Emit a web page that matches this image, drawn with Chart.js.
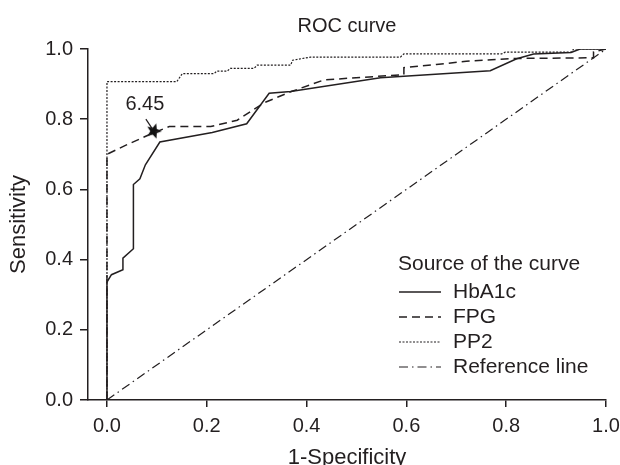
<!DOCTYPE html>
<html>
<head>
<meta charset="utf-8">
<script src="https://cdn.jsdelivr.net/npm/chart.js@4.4.1/dist/chart.umd.min.js"></script>
<style>
  html, body { margin: 0; padding: 0; background: #fff; }
</style>
</head>
<body>
<canvas id="myChart" width="620" height="465"></canvas>
<script>
// ROC curve data (x = 1-specificity, y = sensitivity)
const hba1cX = [0, 0, 0.009, 0.032, 0.032, 0.053, 0.053, 0.066, 0.077, 0.106, 0.211, 0.28, 0.325, 0.368, 0.548, 0.768, 0.821, 0.855, 0.93, 0.948, 1];
const hba1cY = [0, 0.336, 0.357, 0.371, 0.404, 0.431, 0.614, 0.63, 0.67, 0.735, 0.762, 0.787, 0.874, 0.879, 0.918, 0.938, 0.972, 0.986, 0.99, 1, 1];

const fpgX = [0, 0, 0.035, 0.088, 0.125, 0.208, 0.261, 0.315, 0.368, 0.435, 0.595, 0.595, 0.66, 0.72, 0.815, 0.975, 0.975, 1];
const fpgY = [0, 0.70, 0.724, 0.758, 0.779, 0.779, 0.797, 0.847, 0.878, 0.912, 0.927, 0.947, 0.956, 0.965, 0.973, 0.975, 0.992, 1];

const pp2X = [0, 0, 0.14, 0.151, 0.215, 0.22, 0.241, 0.247, 0.295, 0.301, 0.368, 0.372, 0.408, 0.588, 0.595, 0.791, 0.798, 0.931, 0.935, 1];
const pp2Y = [0, 0.907, 0.907, 0.93, 0.93, 0.937, 0.937, 0.945, 0.945, 0.954, 0.954, 0.968, 0.977, 0.977, 0.986, 0.986, 0.991, 0.991, 1, 1];

const refX = [0, 1];
const refY = [0, 1];

// cut-off point marked on the HbA1c/FPG curves
const cutoffX = [0.094];
const cutoffY = [0.766];
const cutoffLabel = '6.45';

const xTicks = [0, 0.2, 0.4, 0.6, 0.8, 1.0];
const yTicks = [0, 0.2, 0.4, 0.6, 0.8, 1.0];

const FONT = "'Liberation Sans', Arial, sans-serif";
const INK = '#231f20';

function toPoints(xs, ys) {
  return xs.map((x, i) => ({ x: x, y: ys[i] }));
}

function makeStar(r) {
  const c = document.createElement('canvas');
  c.width = c.height = 2 * r + 2;
  const g = c.getContext('2d');
  g.beginPath();
  for (let i = 0; i < 10; i++) {
    const a = -Math.PI / 2 + 0.3 + i * Math.PI / 5;
    const rr = i % 2 ? r * 0.45 : r;
    g.lineTo(r + 1 + rr * Math.cos(a), r + 1 + rr * Math.sin(a));
  }
  g.closePath();
  g.fillStyle = '#111';
  g.fill();
  return c;
}

const lineSet = (label, xs, ys, dash, width) => ({
  label: label,
  data: toPoints(xs, ys),
  showLine: true,
  borderColor: INK,
  borderWidth: width,
  borderDash: dash,
  pointRadius: 0,
  tension: 0,
  fill: false,
});

const datasets = [
  lineSet('HbA1c', hba1cX, hba1cY, [], 1.5),
  lineSet('FPG', fpgX, fpgY, [8, 5], 1.5),
  lineSet('PP2', pp2X, pp2Y, [2, 1.5], 1.2),
  lineSet('Reference line', refX, refY, [9, 4, 1.5, 4], 1.2),
  {
    label: '',
    data: toPoints(cutoffX, cutoffY),
    showLine: false,
    pointStyle: makeStar(8),
    pointRadius: 8,
  },
];

// centre the title over the plot area, then draw legend box and the "6.45" callout
const overlay = {
  id: 'overlay',
  afterLayout(chart) {
    const t = chart.titleBlock;
    if (t) {
      t.left = chart.chartArea.left;
      t.right = chart.chartArea.right;
      t.width = t.right - t.left;
    }
  },
  afterDatasetsDraw(chart) {
    const ctx = chart.ctx;
    ctx.save();
    ctx.fillStyle = INK;
    ctx.strokeStyle = INK;

    // callout
    const star = chart.getDatasetMeta(4).data[0];
    ctx.font = '20px ' + FONT;
    ctx.textAlign = 'center';
    ctx.textBaseline = 'middle';
    ctx.fillText(cutoffLabel, star.x - 9, star.y - 27);
    ctx.lineWidth = 1.2;
    ctx.setLineDash([]);
    ctx.beginPath();
    ctx.moveTo(star.x - 8, star.y - 12);
    ctx.lineTo(star.x - 2, star.y - 3);
    ctx.stroke();

    // legend
    const lx = 398, ly = 264;
    ctx.textAlign = 'left';
    ctx.font = '21px ' + FONT;
    ctx.fillText('Source of the curve', lx, ly);
    for (let i = 0; i < 4; i++) {
      const ds = chart.data.datasets[i];
      const y = ly + 28 + i * 25;
      ctx.lineWidth = ds.borderWidth;
      ctx.setLineDash(ds.borderDash);
      ctx.beginPath();
      ctx.moveTo(lx + 1, y);
      ctx.lineTo(lx + 43, y);
      ctx.stroke();
      ctx.setLineDash([]);
      ctx.fillText(ds.label, lx + 55, y);
    }
    ctx.restore();
  }
};

const ctx = document.getElementById('myChart').getContext('2d');
const myChart = new Chart(ctx, {
  type: 'scatter',
  data: { datasets: datasets },
  options: {
    responsive: false,
    animation: false,
    devicePixelRatio: 1,
    layout: { padding: { right: 14 } },
    plugins: {
      legend: { display: false },
      tooltip: { enabled: false },
      title: {
        display: true,
        text: 'ROC curve',
        color: INK,
        font: { size: 20, family: FONT, weight: 'normal' },
        padding: { top: 14, bottom: 11 },
      },
    },
    scales: {
      x: {
        type: 'linear',
        min: -0.038,
        max: 1.0,
        afterBuildTicks: s => { s.ticks = xTicks.map(v => ({ value: v })); },
        afterFit: s => { s.height = 65; s.paddingLeft = 0; s.paddingRight = 0; },
        grid: { display: true, drawOnChartArea: false, drawTicks: true, tickLength: 7, color: INK, lineWidth: 1.5 },
        border: { display: true, color: INK, width: 1.5 },
        ticks: { color: INK, font: { size: 20, family: FONT }, padding: 7, maxRotation: 0, callback: v => v.toFixed(1) },
        title: { display: true, text: '1-Specificity', color: INK, font: { size: 22, family: FONT, lineHeight: 0.6 }, padding: 0 },
      },
      y: {
        type: 'linear',
        min: 0,
        max: 1.0,
        afterBuildTicks: s => { s.ticks = yTicks.map(v => ({ value: v })); },
        afterFit: s => { s.width = 88; },
        grid: { display: true, drawOnChartArea: false, drawTicks: true, tickLength: 8, color: INK, lineWidth: 1.5 },
        border: { display: true, color: INK, width: 1.5 },
        ticks: { color: INK, font: { size: 20, family: FONT }, padding: 7, callback: v => v.toFixed(1) },
        title: { display: true, text: 'Sensitivity', color: INK, font: { size: 22, family: FONT }, padding: 6 },
      },
    },
  },
  plugins: [overlay],
});
</script>
</body>
</html>
